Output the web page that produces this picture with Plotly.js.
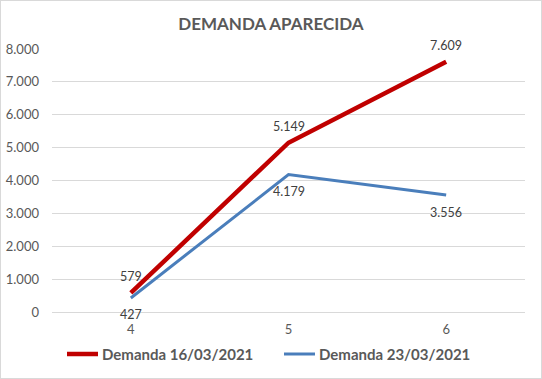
<!DOCTYPE html>
<html><head><meta charset="utf-8">
<script src="https://cdn.plot.ly/plotly-3.0.1.min.js"></script>
<style>html,body{margin:0;padding:0;background:#fff}#chart{width:542px;height:379px;box-sizing:border-box;border:1px solid #D9D9D9}</style>
</head><body><div id="chart"></div>
<script>
const categories = ["4", "5", "6"];
const demanda16 = [579, 5149, 7609];
const demanda23 = [427, 4179, 3556];
const seriesNames = ["Demanda 16/03/2021", "Demanda 23/03/2021"];
const seriesColors = ["#C00000", "#4A7EBB"];
const yTicks = [0, 1000, 2000, 3000, 4000, 5000, 6000, 7000, 8000];

const fam = "Lato, 'Open Sans', sans-serif";
const fmt = v => String(v).replace(/\B(?=(\d{3})+(?!\d))/g, ".");

const traces = [
  {x: categories, y: demanda16, name: seriesNames[0], type: "scatter", mode: "lines",
   line: {color: seriesColors[0], width: 4.5}},
  {x: categories, y: demanda23, name: seriesNames[1], type: "scatter", mode: "lines",
   line: {color: seriesColors[1], width: 3}}
];

const annotations = [];
categories.forEach((c, i) => {
  annotations.push({x: i, y: demanda16[i], xref: "x", yref: "y", text: fmt(demanda16[i]), showarrow: false,
    yshift: 16, font: {family: fam, size: 12.5, color: "#404040"}});
  annotations.push({x: i, y: demanda23[i], xref: "x", yref: "y", text: fmt(demanda23[i]), showarrow: false,
    yshift: -17, font: {family: fam, size: 12.5, color: "#404040"}});
});

// custom legend (paper coordinates)
const W = 540, H = 377, ml = 51, mr = 16, mt = 48, mb = 66;
const pw = W - ml - mr, ph = H - mt - mb;
const px = x => (x - 1 - ml) / pw;
const py = y => (H - mb - (y - 1)) / ph;
const legendY = py(354);
const legendItems = [{x0: 67, x1: 98, tx: 100}, {x0: 284, x1: 315, tx: 317}];
const shapes = [];
legendItems.forEach((it, i) => {
  shapes.push({type: "line", xref: "paper", yref: "paper", x0: px(it.x0), x1: px(it.x1), y0: legendY, y1: legendY,
    line: {color: seriesColors[i], width: i === 0 ? 4.5 : 3}});
  annotations.push({xref: "paper", yref: "paper", x: px(it.tx), y: legendY, xanchor: "left", yanchor: "middle",
    text: "<b>" + seriesNames[i] + "</b>", showarrow: false, font: {family: fam, size: 15, color: "#595959"}});
});

const layout = {
  width: W, height: H,
  margin: {l: ml, r: mr, t: mt, b: mb},
  separators: ",.",
  paper_bgcolor: "#fff", plot_bgcolor: "#fff",
  font: {family: fam, size: 12, color: "#595959"},
  title: {text: "<b>DEMANDA APARECIDA</b>", font: {family: fam, size: 17, color: "#595959"}, x: 0.5, xanchor: "center", y: 0.94, yanchor: "middle"},
  xaxis: {type: "category", range: [-0.5, 2.5], showgrid: false, zeroline: false, showline: false, ticks: "", tickfont: {size: 13, color: "#595959"}, ticklabelstandoff: 8},
  yaxis: {range: [0, 8000], tickvals: yTicks, tickformat: ",", showgrid: true, gridcolor: "#D9D9D9", gridwidth: 1, zeroline: true, zerolinecolor: "#D9D9D9", showline: false, ticks: "", tickfont: {size: 13, color: "#595959"}, ticklabelstandoff: 12},
  showlegend: false,
  annotations: annotations,
  shapes: shapes
};
Plotly.newPlot("chart", traces, layout, {displayModeBar: false, staticPlot: true});
</script></body></html>
